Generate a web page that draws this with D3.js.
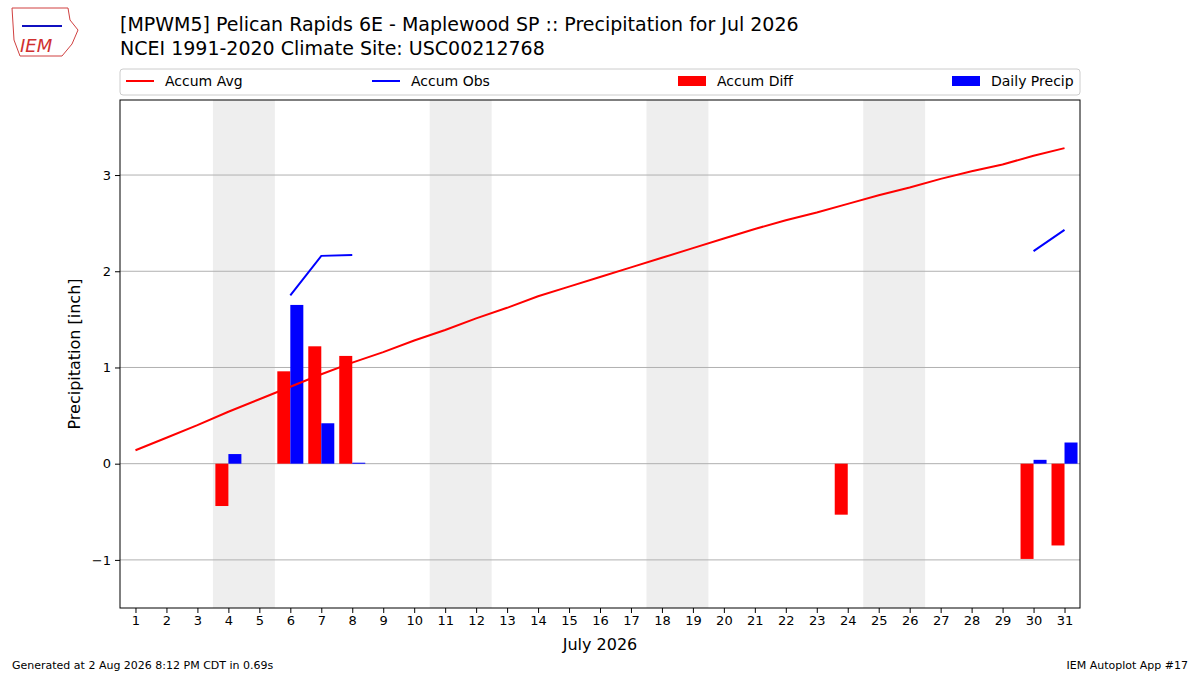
<!DOCTYPE html>
<html lang="en">
<head>
<meta charset="UTF-8">
<script src="https://d3js.org/d3.v7.min.js"></script>
<style>
  body { margin: 0; background: white; }
  text { font-family: "DejaVu Sans", sans-serif; }
</style>
</head>
<body>
<svg id="chart" width="1200" height="675"></svg>
<script>
// days of month
const days = d3.range(1, 32);
const accumAvg = [0.14,0.27,0.40,0.54,0.67,0.80,0.93,1.05,1.16,1.28,1.39,1.51,1.62,1.74,1.84,1.94,2.04,2.14,2.24,2.34,2.44,2.53,2.61,2.70,2.79,2.87,2.96,3.04,3.11,3.20,3.28];
const accumObs = [null,null,null,null,null,1.75,2.16,2.17,null,null,null,null,null,null,null,null,null,null,null,null,null,null,null,null,null,null,null,null,null,2.21,2.43];
const diffDays = [4,6,7,8,24,30,31];
const diffVals = [-0.44,0.96,1.22,1.12,-0.53,-0.99,-0.85];
const precipDays = [4,6,7,8,30,31];
const precipVals = [0.10,1.65,0.42,0.01,0.04,0.22];
const weekends = [[3.5,5.5],[10.5,12.5],[17.5,19.5],[24.5,26.5]];
const yTicks = [-1,0,1,2,3];

const svg = d3.select("#chart");
const L = 120, R = 1080, T = 100, B = 608;
const x = d3.scaleLinear().domain([0.5, 31.5]).range([L, R]);
const y = d3.scaleLinear().domain([-1.5, 3.78]).range([B, T]);
const bw = x(1) - x(0.58);

// weekend shading
svg.selectAll(".wk").data(weekends).enter().append("rect")
  .attr("x", d => x(d[0])).attr("width", d => x(d[1]) - x(d[0]))
  .attr("y", T).attr("height", B - T).attr("fill", "#eeeeee");

// grid
svg.selectAll(".grid").data(yTicks).enter().append("line")
  .attr("x1", L).attr("x2", R).attr("y1", d => y(d)).attr("y2", d => y(d))
  .attr("stroke", "#b0b0b0").attr("stroke-width", 1);

// bars
svg.selectAll(".diff").data(diffDays).enter().append("rect")
  .attr("x", d => x(d) - bw).attr("width", bw)
  .attr("y", (d, i) => y(Math.max(0, diffVals[i])))
  .attr("height", (d, i) => Math.abs(y(diffVals[i]) - y(0)))
  .attr("fill", "red");
svg.selectAll(".pr").data(precipDays).enter().append("rect")
  .attr("x", d => x(d)).attr("width", bw)
  .attr("y", (d, i) => y(precipVals[i]))
  .attr("height", (d, i) => Math.max(1, y(0) - y(precipVals[i])))
  .attr("fill", "blue");

// lines
const line = d3.line().defined(d => d[1] !== null).x(d => x(d[0])).y(d => y(d[1]));
svg.append("path").datum(days.map((d, i) => [d, accumAvg[i]]))
  .attr("d", line).attr("fill", "none").attr("stroke", "red").attr("stroke-width", 2);
svg.append("path").datum(days.map((d, i) => [d, accumObs[i]]))
  .attr("d", line).attr("fill", "none").attr("stroke", "blue").attr("stroke-width", 2);

// frame
svg.append("rect").attr("x", L).attr("y", T).attr("width", R - L).attr("height", B - T)
  .attr("fill", "none").attr("stroke", "black");

// axes
const xa = svg.append("g").attr("transform", `translate(0,${B})`)
  .call(d3.axisBottom(x).tickValues(days).tickSize(5).tickPadding(3));
const ya = svg.append("g").attr("transform", `translate(${L},0)`)
  .call(d3.axisLeft(y).tickValues(yTicks).tickSize(5).tickPadding(4)
    .tickFormat(d => d < 0 ? "\u2212" + Math.abs(d) : d));
[xa, ya].forEach(a => {
  a.select(".domain").remove();
  a.selectAll("text").attr("font-size", 13).attr("font-family", "DejaVu Sans").attr("fill", "black");
});
svg.append("text").attr("x", (L + R) / 2).attr("y", 650).attr("text-anchor", "middle")
  .attr("font-size", 16).text("July 2026");
svg.append("text").attr("transform", `translate(80,${(T + B) / 2}) rotate(-90)`)
  .attr("text-anchor", "middle").attr("font-size", 16).text("Precipitation [inch]");

// titles
svg.append("text").attr("x", 120).attr("y", 31).attr("font-size", 19)
  .text("[MPWM5] Pelican Rapids 6E - Maplewood SP :: Precipitation for Jul 2026");
svg.append("text").attr("x", 120).attr("y", 55).attr("font-size", 19)
  .text("NCEI 1991-2020 Climate Site: USC00212768");

// legend
svg.append("rect").attr("x", 120).attr("y", 69).attr("width", 960).attr("height", 26)
  .attr("fill", "white").attr("stroke", "#cccccc").attr("rx", 3);
const legend = [
  {t: "Accum Avg", c: "red", type: "line", x: 126},
  {t: "Accum Obs", c: "blue", type: "line", x: 372},
  {t: "Accum Diff", c: "red", type: "bar", x: 678},
  {t: "Daily Precip", c: "blue", type: "bar", x: 952}
];
legend.forEach(l => {
  if (l.type === "line") {
    svg.append("line").attr("x1", l.x).attr("x2", l.x + 28).attr("y1", 81).attr("y2", 81)
      .attr("stroke", l.c).attr("stroke-width", 2);
  } else {
    svg.append("rect").attr("x", l.x).attr("y", 76).attr("width", 28).attr("height", 10).attr("fill", l.c);
  }
  svg.append("text").attr("x", l.x + 39).attr("y", 86).attr("font-size", 14).text(l.t);
});

// footer
svg.append("text").attr("x", 12).attr("y", 669).attr("font-size", 11).text("Generated at 2 Aug 2026 8:12 PM CDT in 0.69s");
svg.append("text").attr("x", 1188).attr("y", 669).attr("font-size", 11).attr("text-anchor", "end").text("IEM Autoplot App #17");

// logo
svg.append("path").attr("d", "M12,8 L68,8 L70,20 L78,30 L72,44 L62,56 L20,56 L14,40 Z")
  .attr("fill", "none").attr("stroke", "#d04040").attr("stroke-width", 1);
svg.append("line").attr("x1", 22).attr("x2", 62).attr("y1", 26).attr("y2", 26).attr("stroke", "#1010c0").attr("stroke-width", 2);
svg.append("text").attr("x", 20).attr("y", 52).attr("font-size", 18).attr("font-style", "italic")
  .attr("font-family", "Liberation Serif").attr("fill", "#d03030").text("IEM");
</script>
</body>
</html>
